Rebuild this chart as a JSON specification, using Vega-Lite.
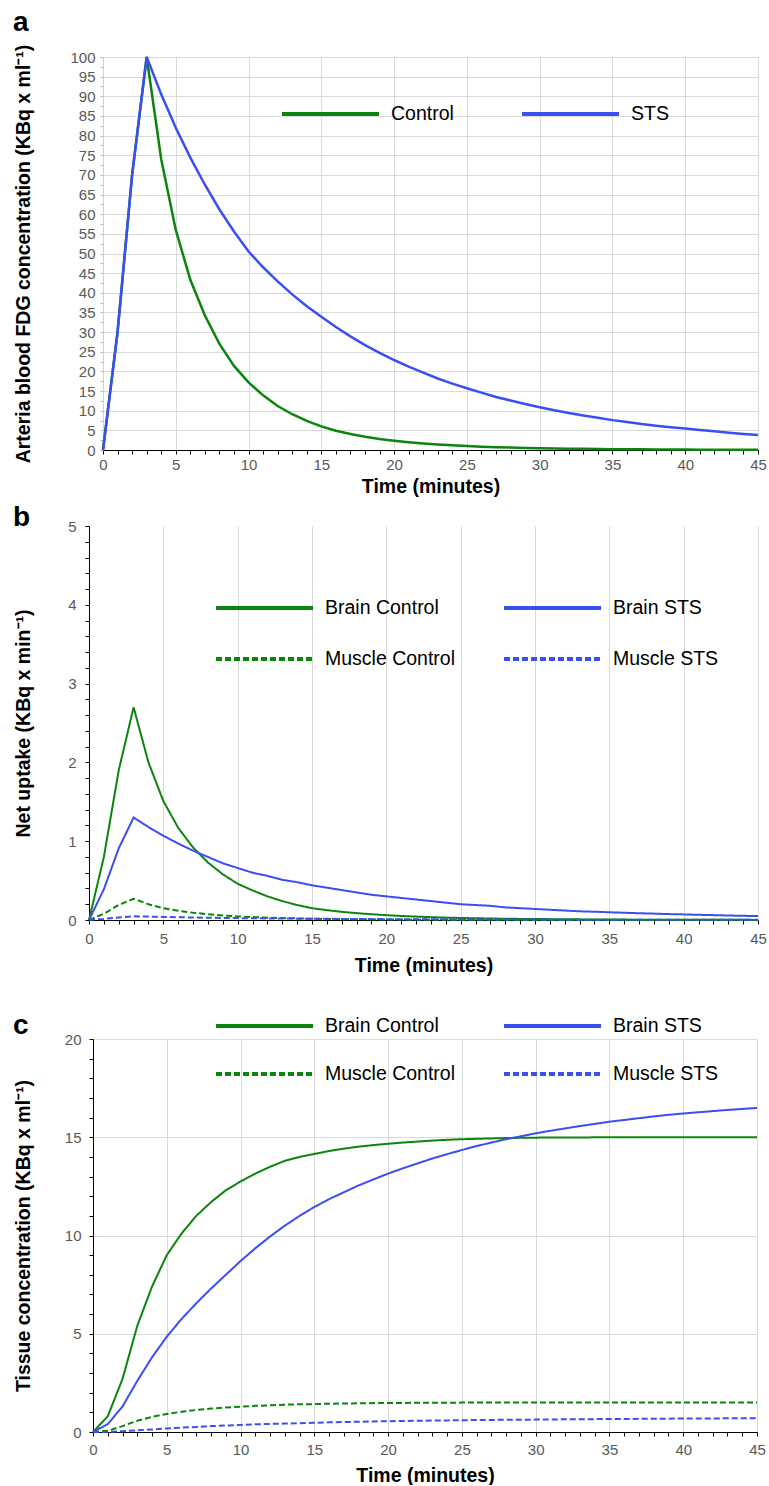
{
  "$schema": "https://vega.github.io/schema/vega-lite/v6.json",
  "padding": {"left": 12, "top": 9, "right": 0, "bottom": 0},
  "spacing": 37,
  "resolve": {"scale": {"color": "independent", "strokeDash": "independent", "x": "independent", "y": "independent"}, "legend": {"color": "independent", "strokeDash": "independent"}},
  "config": {
    "font": "Liberation Sans",
    "view": {"stroke": null},
    "axis": {
      "labelFont": "Liberation Sans", "labelFontSize": 15, "labelColor": "#595959",
      "titleFont": "Liberation Sans", "titleFontSize": 19.5, "titleFontWeight": "bold", "titleColor": "#000000",
      "gridColor": "#d9d9d9", "gridWidth": 1,
      "domainColor": "#000000", "tickColor": "#000000", "tickSize": 4,
      "labelOverlap": false, "labelFlush": false, "labelBound": false
    },
    "legend": {"padding": 0, "labelFont": "Liberation Sans", "labelFontSize": 19.5, "labelColor": "#000000", "symbolType": "stroke", "symbolSize": 9409, "symbolStrokeWidth": 4, "clipHeight": 20, "labelOffset": 10, "labelLimit": 300, "direction": "horizontal"},
    "title": {"anchor": "start", "frame": "bounds", "fontSize": 28, "fontWeight": "bold", "color": "#000000", "font": "Liberation Sans"}
  },
  "datasets": {
    "none": [],
    "art": [
      {"t":0,"s":"Control","v":0},{"t":1,"s":"Control","v":30},{"t":2,"s":"Control","v":70},{"t":3,"s":"Control","v":100},{"t":4,"s":"Control","v":74},{"t":5,"s":"Control","v":56},{"t":6,"s":"Control","v":43.3},{"t":7,"s":"Control","v":34.2},{"t":8,"s":"Control","v":27},{"t":9,"s":"Control","v":21.4},{"t":10,"s":"Control","v":17.2},{"t":11,"s":"Control","v":13.9},{"t":12,"s":"Control","v":11.2},{"t":13,"s":"Control","v":9.1},{"t":14,"s":"Control","v":7.4},{"t":15,"s":"Control","v":6.0},{"t":16,"s":"Control","v":4.9},{"t":17,"s":"Control","v":4.05},{"t":18,"s":"Control","v":3.35},{"t":19,"s":"Control","v":2.8},{"t":20,"s":"Control","v":2.35},{"t":21,"s":"Control","v":1.97},{"t":22,"s":"Control","v":1.66},{"t":23,"s":"Control","v":1.4},{"t":24,"s":"Control","v":1.18},{"t":25,"s":"Control","v":1.0},{"t":26,"s":"Control","v":0.85},{"t":27,"s":"Control","v":0.73},{"t":28,"s":"Control","v":0.62},{"t":29,"s":"Control","v":0.53},{"t":30,"s":"Control","v":0.45},{"t":31,"s":"Control","v":0.39},{"t":32,"s":"Control","v":0.33},{"t":33,"s":"Control","v":0.29},{"t":34,"s":"Control","v":0.25},{"t":35,"s":"Control","v":0.21},{"t":36,"s":"Control","v":0.18},{"t":37,"s":"Control","v":0.16},{"t":38,"s":"Control","v":0.14},{"t":39,"s":"Control","v":0.12},{"t":40,"s":"Control","v":0.1},{"t":41,"s":"Control","v":0.09},{"t":42,"s":"Control","v":0.08},{"t":43,"s":"Control","v":0.07},{"t":44,"s":"Control","v":0.06},{"t":45,"s":"Control","v":0.05},
      {"t":0,"s":"STS","v":0},{"t":1,"s":"STS","v":30},{"t":2,"s":"STS","v":70},{"t":3,"s":"STS","v":100},{"t":4,"s":"STS","v":90.5},{"t":5,"s":"STS","v":82},{"t":6,"s":"STS","v":74.4},{"t":7,"s":"STS","v":67.5},{"t":8,"s":"STS","v":61.2},{"t":9,"s":"STS","v":55.6},{"t":10,"s":"STS","v":50.5},{"t":11,"s":"STS","v":46.5},{"t":12,"s":"STS","v":42.9},{"t":13,"s":"STS","v":39.6},{"t":14,"s":"STS","v":36.6},{"t":15,"s":"STS","v":33.9},{"t":16,"s":"STS","v":31.3},{"t":17,"s":"STS","v":28.9},{"t":18,"s":"STS","v":26.7},{"t":19,"s":"STS","v":24.7},{"t":20,"s":"STS","v":22.9},{"t":21,"s":"STS","v":21.2},{"t":22,"s":"STS","v":19.7},{"t":23,"s":"STS","v":18.2},{"t":24,"s":"STS","v":16.9},{"t":25,"s":"STS","v":15.7},{"t":26,"s":"STS","v":14.6},{"t":27,"s":"STS","v":13.5},{"t":28,"s":"STS","v":12.6},{"t":29,"s":"STS","v":11.7},{"t":30,"s":"STS","v":10.9},{"t":31,"s":"STS","v":10.1},{"t":32,"s":"STS","v":9.4},{"t":33,"s":"STS","v":8.8},{"t":34,"s":"STS","v":8.2},{"t":35,"s":"STS","v":7.6},{"t":36,"s":"STS","v":7.1},{"t":37,"s":"STS","v":6.6},{"t":38,"s":"STS","v":6.2},{"t":39,"s":"STS","v":5.8},{"t":40,"s":"STS","v":5.45},{"t":41,"s":"STS","v":5.1},{"t":42,"s":"STS","v":4.75},{"t":43,"s":"STS","v":4.4},{"t":44,"s":"STS","v":4.1},{"t":45,"s":"STS","v":3.8}
    ],
    "up": [
      {"t":0,"s":"Brain Control","v":0},{"t":1,"s":"Brain Control","v":0.8},{"t":2,"s":"Brain Control","v":1.9},{"t":3,"s":"Brain Control","v":2.7},{"t":4,"s":"Brain Control","v":2.0},{"t":5,"s":"Brain Control","v":1.51},{"t":6,"s":"Brain Control","v":1.17},{"t":7,"s":"Brain Control","v":0.92},{"t":8,"s":"Brain Control","v":0.73},{"t":9,"s":"Brain Control","v":0.58},{"t":10,"s":"Brain Control","v":0.46},{"t":11,"s":"Brain Control","v":0.375},{"t":12,"s":"Brain Control","v":0.3},{"t":13,"s":"Brain Control","v":0.24},{"t":14,"s":"Brain Control","v":0.19},{"t":15,"s":"Brain Control","v":0.15},{"t":16,"s":"Brain Control","v":0.125},{"t":17,"s":"Brain Control","v":0.104},{"t":18,"s":"Brain Control","v":0.087},{"t":19,"s":"Brain Control","v":0.073},{"t":20,"s":"Brain Control","v":0.061},{"t":21,"s":"Brain Control","v":0.051},{"t":22,"s":"Brain Control","v":0.043},{"t":23,"s":"Brain Control","v":0.036},{"t":24,"s":"Brain Control","v":0.03},{"t":25,"s":"Brain Control","v":0.026},{"t":26,"s":"Brain Control","v":0.022},{"t":27,"s":"Brain Control","v":0.019},{"t":28,"s":"Brain Control","v":0.016},{"t":29,"s":"Brain Control","v":0.014},{"t":30,"s":"Brain Control","v":0.012},{"t":31,"s":"Brain Control","v":0.011},{"t":32,"s":"Brain Control","v":0.009},{"t":33,"s":"Brain Control","v":0.008},{"t":34,"s":"Brain Control","v":0.007},{"t":35,"s":"Brain Control","v":0.006},{"t":36,"s":"Brain Control","v":0.005},{"t":37,"s":"Brain Control","v":0.004},{"t":38,"s":"Brain Control","v":0.004},{"t":39,"s":"Brain Control","v":0.003},{"t":40,"s":"Brain Control","v":0.003},{"t":41,"s":"Brain Control","v":0.002},{"t":42,"s":"Brain Control","v":0.002},{"t":43,"s":"Brain Control","v":0.002},{"t":44,"s":"Brain Control","v":0.002},{"t":45,"s":"Brain Control","v":0.001},
      {"t":0,"s":"Brain STS","v":0},{"t":1,"s":"Brain STS","v":0.39},{"t":2,"s":"Brain STS","v":0.91},{"t":3,"s":"Brain STS","v":1.3},{"t":4,"s":"Brain STS","v":1.18},{"t":5,"s":"Brain STS","v":1.07},{"t":6,"s":"Brain STS","v":0.97},{"t":7,"s":"Brain STS","v":0.88},{"t":8,"s":"Brain STS","v":0.8},{"t":9,"s":"Brain STS","v":0.72},{"t":10,"s":"Brain STS","v":0.66},{"t":11,"s":"Brain STS","v":0.6},{"t":12,"s":"Brain STS","v":0.56},{"t":13,"s":"Brain STS","v":0.51},{"t":14,"s":"Brain STS","v":0.48},{"t":15,"s":"Brain STS","v":0.44},{"t":16,"s":"Brain STS","v":0.41},{"t":17,"s":"Brain STS","v":0.38},{"t":18,"s":"Brain STS","v":0.35},{"t":19,"s":"Brain STS","v":0.32},{"t":20,"s":"Brain STS","v":0.3},{"t":21,"s":"Brain STS","v":0.28},{"t":22,"s":"Brain STS","v":0.26},{"t":23,"s":"Brain STS","v":0.24},{"t":24,"s":"Brain STS","v":0.22},{"t":25,"s":"Brain STS","v":0.2},{"t":26,"s":"Brain STS","v":0.19},{"t":27,"s":"Brain STS","v":0.18},{"t":28,"s":"Brain STS","v":0.16},{"t":29,"s":"Brain STS","v":0.15},{"t":30,"s":"Brain STS","v":0.14},{"t":31,"s":"Brain STS","v":0.13},{"t":32,"s":"Brain STS","v":0.12},{"t":33,"s":"Brain STS","v":0.11},{"t":34,"s":"Brain STS","v":0.105},{"t":35,"s":"Brain STS","v":0.098},{"t":36,"s":"Brain STS","v":0.092},{"t":37,"s":"Brain STS","v":0.086},{"t":38,"s":"Brain STS","v":0.081},{"t":39,"s":"Brain STS","v":0.075},{"t":40,"s":"Brain STS","v":0.071},{"t":41,"s":"Brain STS","v":0.066},{"t":42,"s":"Brain STS","v":0.062},{"t":43,"s":"Brain STS","v":0.057},{"t":44,"s":"Brain STS","v":0.053},{"t":45,"s":"Brain STS","v":0.05},
      {"t":0,"s":"Muscle Control","v":0},{"t":1,"s":"Muscle Control","v":0.08},{"t":2,"s":"Muscle Control","v":0.19},{"t":3,"s":"Muscle Control","v":0.27},{"t":4,"s":"Muscle Control","v":0.2},{"t":5,"s":"Muscle Control","v":0.15},{"t":6,"s":"Muscle Control","v":0.117},{"t":7,"s":"Muscle Control","v":0.092},{"t":8,"s":"Muscle Control","v":0.073},{"t":9,"s":"Muscle Control","v":0.058},{"t":10,"s":"Muscle Control","v":0.046},{"t":11,"s":"Muscle Control","v":0.037},{"t":12,"s":"Muscle Control","v":0.03},{"t":13,"s":"Muscle Control","v":0.025},{"t":14,"s":"Muscle Control","v":0.02},{"t":15,"s":"Muscle Control","v":0.016},{"t":16,"s":"Muscle Control","v":0.013},{"t":17,"s":"Muscle Control","v":0.011},{"t":18,"s":"Muscle Control","v":0.009},{"t":19,"s":"Muscle Control","v":0.008},{"t":20,"s":"Muscle Control","v":0.006},{"t":21,"s":"Muscle Control","v":0.005},{"t":22,"s":"Muscle Control","v":0.004},{"t":23,"s":"Muscle Control","v":0.004},{"t":24,"s":"Muscle Control","v":0.003},{"t":25,"s":"Muscle Control","v":0.003},{"t":26,"s":"Muscle Control","v":0.002},{"t":27,"s":"Muscle Control","v":0.002},{"t":28,"s":"Muscle Control","v":0.002},{"t":29,"s":"Muscle Control","v":0.001},{"t":30,"s":"Muscle Control","v":0.001},{"t":31,"s":"Muscle Control","v":0.001},{"t":32,"s":"Muscle Control","v":0.001},{"t":33,"s":"Muscle Control","v":0.001},{"t":34,"s":"Muscle Control","v":0.001},{"t":35,"s":"Muscle Control","v":0.001},{"t":36,"s":"Muscle Control","v":0},{"t":37,"s":"Muscle Control","v":0},{"t":38,"s":"Muscle Control","v":0},{"t":39,"s":"Muscle Control","v":0},{"t":40,"s":"Muscle Control","v":0},{"t":41,"s":"Muscle Control","v":0},{"t":42,"s":"Muscle Control","v":0},{"t":43,"s":"Muscle Control","v":0},{"t":44,"s":"Muscle Control","v":0},{"t":45,"s":"Muscle Control","v":0},
      {"t":0,"s":"Muscle STS","v":0},{"t":1,"s":"Muscle STS","v":0.014},{"t":2,"s":"Muscle STS","v":0.033},{"t":3,"s":"Muscle STS","v":0.047},{"t":4,"s":"Muscle STS","v":0.043},{"t":5,"s":"Muscle STS","v":0.039},{"t":6,"s":"Muscle STS","v":0.035},{"t":7,"s":"Muscle STS","v":0.032},{"t":8,"s":"Muscle STS","v":0.029},{"t":9,"s":"Muscle STS","v":0.026},{"t":10,"s":"Muscle STS","v":0.024},{"t":11,"s":"Muscle STS","v":0.022},{"t":12,"s":"Muscle STS","v":0.02},{"t":13,"s":"Muscle STS","v":0.019},{"t":14,"s":"Muscle STS","v":0.017},{"t":15,"s":"Muscle STS","v":0.016},{"t":16,"s":"Muscle STS","v":0.015},{"t":17,"s":"Muscle STS","v":0.014},{"t":18,"s":"Muscle STS","v":0.013},{"t":19,"s":"Muscle STS","v":0.012},{"t":20,"s":"Muscle STS","v":0.011},{"t":21,"s":"Muscle STS","v":0.01},{"t":22,"s":"Muscle STS","v":0.009},{"t":23,"s":"Muscle STS","v":0.0086},{"t":24,"s":"Muscle STS","v":0.008},{"t":25,"s":"Muscle STS","v":0.0074},{"t":26,"s":"Muscle STS","v":0.0069},{"t":27,"s":"Muscle STS","v":0.0064},{"t":28,"s":"Muscle STS","v":0.0059},{"t":29,"s":"Muscle STS","v":0.0055},{"t":30,"s":"Muscle STS","v":0.0051},{"t":31,"s":"Muscle STS","v":0.0048},{"t":32,"s":"Muscle STS","v":0.0044},{"t":33,"s":"Muscle STS","v":0.0041},{"t":34,"s":"Muscle STS","v":0.0039},{"t":35,"s":"Muscle STS","v":0.0036},{"t":36,"s":"Muscle STS","v":0.0033},{"t":37,"s":"Muscle STS","v":0.0031},{"t":38,"s":"Muscle STS","v":0.0029},{"t":39,"s":"Muscle STS","v":0.0027},{"t":40,"s":"Muscle STS","v":0.0026},{"t":41,"s":"Muscle STS","v":0.0024},{"t":42,"s":"Muscle STS","v":0.0022},{"t":43,"s":"Muscle STS","v":0.0021},{"t":44,"s":"Muscle STS","v":0.0019},{"t":45,"s":"Muscle STS","v":0.0018}
    ],
    "tis": [
      {"t":0,"s":"Brain Control","v":0},{"t":1,"s":"Brain Control","v":0.8},{"t":2,"s":"Brain Control","v":2.7},{"t":3,"s":"Brain Control","v":5.4},{"t":4,"s":"Brain Control","v":7.4},{"t":5,"s":"Brain Control","v":9.0},{"t":6,"s":"Brain Control","v":10.1},{"t":7,"s":"Brain Control","v":11.0},{"t":8,"s":"Brain Control","v":11.7},{"t":9,"s":"Brain Control","v":12.3},{"t":10,"s":"Brain Control","v":12.75},{"t":11,"s":"Brain Control","v":13.15},{"t":12,"s":"Brain Control","v":13.5},{"t":13,"s":"Brain Control","v":13.8},{"t":14,"s":"Brain Control","v":14.0},{"t":15,"s":"Brain Control","v":14.15},{"t":16,"s":"Brain Control","v":14.3},{"t":17,"s":"Brain Control","v":14.42},{"t":18,"s":"Brain Control","v":14.52},{"t":19,"s":"Brain Control","v":14.6},{"t":20,"s":"Brain Control","v":14.67},{"t":21,"s":"Brain Control","v":14.73},{"t":22,"s":"Brain Control","v":14.78},{"t":23,"s":"Brain Control","v":14.83},{"t":24,"s":"Brain Control","v":14.87},{"t":25,"s":"Brain Control","v":14.9},{"t":26,"s":"Brain Control","v":14.92},{"t":27,"s":"Brain Control","v":14.94},{"t":28,"s":"Brain Control","v":14.96},{"t":29,"s":"Brain Control","v":14.97},{"t":30,"s":"Brain Control","v":14.98},{"t":31,"s":"Brain Control","v":14.985},{"t":32,"s":"Brain Control","v":14.99},{"t":33,"s":"Brain Control","v":14.99},{"t":34,"s":"Brain Control","v":14.995},{"t":35,"s":"Brain Control","v":14.995},{"t":36,"s":"Brain Control","v":15},{"t":37,"s":"Brain Control","v":15},{"t":38,"s":"Brain Control","v":15},{"t":39,"s":"Brain Control","v":15},{"t":40,"s":"Brain Control","v":15},{"t":41,"s":"Brain Control","v":15},{"t":42,"s":"Brain Control","v":15},{"t":43,"s":"Brain Control","v":15},{"t":44,"s":"Brain Control","v":15},{"t":45,"s":"Brain Control","v":15},
      {"t":0,"s":"Brain STS","v":0},{"t":1,"s":"Brain STS","v":0.4},{"t":2,"s":"Brain STS","v":1.3},{"t":3,"s":"Brain STS","v":2.6},{"t":4,"s":"Brain STS","v":3.8},{"t":5,"s":"Brain STS","v":4.85},{"t":6,"s":"Brain STS","v":5.75},{"t":7,"s":"Brain STS","v":6.55},{"t":8,"s":"Brain STS","v":7.3},{"t":9,"s":"Brain STS","v":8.0},{"t":10,"s":"Brain STS","v":8.7},{"t":11,"s":"Brain STS","v":9.35},{"t":12,"s":"Brain STS","v":9.95},{"t":13,"s":"Brain STS","v":10.5},{"t":14,"s":"Brain STS","v":11.0},{"t":15,"s":"Brain STS","v":11.45},{"t":16,"s":"Brain STS","v":11.85},{"t":17,"s":"Brain STS","v":12.2},{"t":18,"s":"Brain STS","v":12.55},{"t":19,"s":"Brain STS","v":12.85},{"t":20,"s":"Brain STS","v":13.15},{"t":21,"s":"Brain STS","v":13.42},{"t":22,"s":"Brain STS","v":13.67},{"t":23,"s":"Brain STS","v":13.92},{"t":24,"s":"Brain STS","v":14.14},{"t":25,"s":"Brain STS","v":14.35},{"t":26,"s":"Brain STS","v":14.55},{"t":27,"s":"Brain STS","v":14.73},{"t":28,"s":"Brain STS","v":14.9},{"t":29,"s":"Brain STS","v":15.05},{"t":30,"s":"Brain STS","v":15.2},{"t":31,"s":"Brain STS","v":15.33},{"t":32,"s":"Brain STS","v":15.45},{"t":33,"s":"Brain STS","v":15.57},{"t":34,"s":"Brain STS","v":15.68},{"t":35,"s":"Brain STS","v":15.79},{"t":36,"s":"Brain STS","v":15.88},{"t":37,"s":"Brain STS","v":15.97},{"t":38,"s":"Brain STS","v":16.06},{"t":39,"s":"Brain STS","v":16.14},{"t":40,"s":"Brain STS","v":16.21},{"t":41,"s":"Brain STS","v":16.27},{"t":42,"s":"Brain STS","v":16.33},{"t":43,"s":"Brain STS","v":16.39},{"t":44,"s":"Brain STS","v":16.44},{"t":45,"s":"Brain STS","v":16.49},
      {"t":0,"s":"Muscle Control","v":0},{"t":1,"s":"Muscle Control","v":0.06},{"t":2,"s":"Muscle Control","v":0.3},{"t":3,"s":"Muscle Control","v":0.57},{"t":4,"s":"Muscle Control","v":0.77},{"t":5,"s":"Muscle Control","v":0.92},{"t":6,"s":"Muscle Control","v":1.03},{"t":7,"s":"Muscle Control","v":1.12},{"t":8,"s":"Muscle Control","v":1.19},{"t":9,"s":"Muscle Control","v":1.25},{"t":10,"s":"Muscle Control","v":1.29},{"t":11,"s":"Muscle Control","v":1.33},{"t":12,"s":"Muscle Control","v":1.36},{"t":13,"s":"Muscle Control","v":1.39},{"t":14,"s":"Muscle Control","v":1.41},{"t":15,"s":"Muscle Control","v":1.42},{"t":16,"s":"Muscle Control","v":1.44},{"t":17,"s":"Muscle Control","v":1.45},{"t":18,"s":"Muscle Control","v":1.46},{"t":19,"s":"Muscle Control","v":1.47},{"t":20,"s":"Muscle Control","v":1.475},{"t":21,"s":"Muscle Control","v":1.48},{"t":22,"s":"Muscle Control","v":1.485},{"t":23,"s":"Muscle Control","v":1.49},{"t":24,"s":"Muscle Control","v":1.49},{"t":25,"s":"Muscle Control","v":1.495},{"t":26,"s":"Muscle Control","v":1.495},{"t":27,"s":"Muscle Control","v":1.495},{"t":28,"s":"Muscle Control","v":1.5},{"t":29,"s":"Muscle Control","v":1.5},{"t":30,"s":"Muscle Control","v":1.5},{"t":31,"s":"Muscle Control","v":1.5},{"t":32,"s":"Muscle Control","v":1.5},{"t":33,"s":"Muscle Control","v":1.5},{"t":34,"s":"Muscle Control","v":1.5},{"t":35,"s":"Muscle Control","v":1.5},{"t":36,"s":"Muscle Control","v":1.5},{"t":37,"s":"Muscle Control","v":1.5},{"t":38,"s":"Muscle Control","v":1.5},{"t":39,"s":"Muscle Control","v":1.5},{"t":40,"s":"Muscle Control","v":1.5},{"t":41,"s":"Muscle Control","v":1.5},{"t":42,"s":"Muscle Control","v":1.5},{"t":43,"s":"Muscle Control","v":1.5},{"t":44,"s":"Muscle Control","v":1.5},{"t":45,"s":"Muscle Control","v":1.5},
      {"t":0,"s":"Muscle STS","v":0},{"t":1,"s":"Muscle STS","v":0.01},{"t":2,"s":"Muscle STS","v":0.04},{"t":3,"s":"Muscle STS","v":0.09},{"t":4,"s":"Muscle STS","v":0.13},{"t":5,"s":"Muscle STS","v":0.18},{"t":6,"s":"Muscle STS","v":0.22},{"t":7,"s":"Muscle STS","v":0.26},{"t":8,"s":"Muscle STS","v":0.3},{"t":9,"s":"Muscle STS","v":0.33},{"t":10,"s":"Muscle STS","v":0.36},{"t":11,"s":"Muscle STS","v":0.39},{"t":12,"s":"Muscle STS","v":0.41},{"t":13,"s":"Muscle STS","v":0.43},{"t":14,"s":"Muscle STS","v":0.45},{"t":15,"s":"Muscle STS","v":0.47},{"t":16,"s":"Muscle STS","v":0.49},{"t":17,"s":"Muscle STS","v":0.51},{"t":18,"s":"Muscle STS","v":0.52},{"t":19,"s":"Muscle STS","v":0.54},{"t":20,"s":"Muscle STS","v":0.55},{"t":21,"s":"Muscle STS","v":0.56},{"t":22,"s":"Muscle STS","v":0.57},{"t":23,"s":"Muscle STS","v":0.58},{"t":24,"s":"Muscle STS","v":0.59},{"t":25,"s":"Muscle STS","v":0.6},{"t":26,"s":"Muscle STS","v":0.61},{"t":27,"s":"Muscle STS","v":0.615},{"t":28,"s":"Muscle STS","v":0.62},{"t":29,"s":"Muscle STS","v":0.625},{"t":30,"s":"Muscle STS","v":0.63},{"t":31,"s":"Muscle STS","v":0.64},{"t":32,"s":"Muscle STS","v":0.645},{"t":33,"s":"Muscle STS","v":0.65},{"t":34,"s":"Muscle STS","v":0.655},{"t":35,"s":"Muscle STS","v":0.66},{"t":36,"s":"Muscle STS","v":0.665},{"t":37,"s":"Muscle STS","v":0.67},{"t":38,"s":"Muscle STS","v":0.675},{"t":39,"s":"Muscle STS","v":0.68},{"t":40,"s":"Muscle STS","v":0.685},{"t":41,"s":"Muscle STS","v":0.69},{"t":42,"s":"Muscle STS","v":0.69},{"t":43,"s":"Muscle STS","v":0.695},{"t":44,"s":"Muscle STS","v":0.7},{"t":45,"s":"Muscle STS","v":0.7}
    ]
  },
  "vconcat": [
    {
      "spacing": 8,
      "resolve": {"scale": {"color": "independent", "strokeDash": "independent", "x": "independent", "y": "independent"}, "legend": {"color": "independent", "strokeDash": "independent"}},
      "vconcat": [
        {"spacing": 0, "hconcat": [
          {"width": 1, "height": 1, "data": {"name": "none"}, "mark": "point", "encoding": {}},
          {
            "width": 655, "height": 393,
            "title": {"text": "a", "offset": 7},
            "data": {"name": "art"},
            "mark": {"type": "line", "strokeWidth": 2.5},
            "encoding": {
              "x": {"field": "t", "type": "quantitative", "scale": {"domain": [0, 45], "nice": false},
                "axis": {"title": "Time (minutes)", "values": [0,1,2,3,4,5,6,7,8,9,10,11,12,13,14,15,16,17,18,19,20,21,22,23,24,25,26,27,28,29,30,31,32,33,34,35,36,37,38,39,40,41,42,43,44,45],
                  "labelExpr": "datum.value % 5 === 0 ? format(datum.value, 'd') : ''",
                  "gridOpacity": {"condition": {"test": "datum.value % 5 === 0", "value": 1}, "value": 0},
                  "labelPadding": 3, "minExtent": 22, "maxExtent": 22, "titlePadding": 5}},
              "y": {"field": "v", "type": "quantitative", "scale": {"domain": [0, 100], "nice": false},
                "axis": {"title": "Arteria blood FDG concentration (KBq x ml⁻¹)", "values": [0,2.5,5,7.5,10,12.5,15,17.5,20,22.5,25,27.5,30,32.5,35,37.5,40,42.5,45,47.5,50,52.5,55,57.5,60,62.5,65,67.5,70,72.5,75,77.5,80,82.5,85,87.5,90,92.5,95,97.5,100],
                  "labelExpr": "datum.value % 5 === 0 ? format(datum.value, 'd') : ''",
                  "gridOpacity": {"condition": {"test": "datum.value % 5 === 0", "value": 1}, "value": 0},
                  "domainColor": "#d0d0d0", "tickColor": "#b0b0b0", "tickSize": 3,
                  "labelPadding": 5, "minExtent": 40, "maxExtent": 40, "titlePadding": 30}},
              "color": {"field": "s", "type": "nominal", "scale": {"domain": ["Control", "STS"], "range": ["#0c850c", "#3b4ef2"]},
                "legend": {"orient": "none", "legendX": 268, "legendY": 47, "columns": 2, "title": null, "columnPadding": 66,
                  "encode": {"symbols": {"update": {"stroke": {"signal": "datum.value === 'Control' ? '#00b050' : '#3a53f5'"}}}}}}
            }
          }
        ]},
        {"spacing": 0, "hconcat": [
          {"width": 1, "height": 1, "data": {"name": "none"}, "mark": "point", "encoding": {}},
          {
            "width": 669, "height": 394,
            "title": {"text": "b", "offset": -13},
            "data": {"name": "up"},
            "mark": {"type": "line", "strokeWidth": 2},
            "encoding": {
              "x": {"field": "t", "type": "quantitative", "scale": {"domain": [0, 45], "nice": false},
                "axis": {"title": "Time (minutes)", "values": [0,1,2,3,4,5,6,7,8,9,10,11,12,13,14,15,16,17,18,19,20,21,22,23,24,25,26,27,28,29,30,31,32,33,34,35,36,37,38,39,40,41,42,43,44,45],
                  "labelExpr": "datum.value % 5 === 0 ? format(datum.value, 'd') : ''",
                  "gridOpacity": {"condition": {"test": "datum.value % 5 === 0", "value": 1}, "value": 0},
                  "labelPadding": 7, "minExtent": 28, "maxExtent": 28, "titlePadding": 8}},
              "y": {"field": "v", "type": "quantitative", "scale": {"domain": [0, 5], "nice": false},
                "axis": {"title": "Net uptake (KBq x min⁻¹)", "values": [0,0.2,0.4,0.6,0.8,1,1.2,1.4,1.6,1.8,2,2.2,2.4,2.6,2.8,3,3.2,3.4,3.6,3.8,4,4.2,4.4,4.6,4.8,5],
                  "labelExpr": "datum.value % 1 === 0 ? format(datum.value, 'd') : ''", "grid": false,
                  "labelPadding": 9, "minExtent": 30, "maxExtent": 30, "titlePadding": 26}},
              "color": {"field": "s", "type": "nominal", "scale": {"domain": ["Brain Control", "Brain STS", "Muscle Control", "Muscle STS"], "range": ["#0c850c", "#3b4ef2", "#0c850c", "#3b4ef2"]},
                "legend": {"orient": "none", "legendX": 202, "legendY": 72, "columns": 2, "title": null, "columnPadding": 46, "rowPadding": 31,
                  "encode": {"symbols": {"update": {"stroke": {"signal": "indexof(datum.value, 'STS') >= 0 ? '#3a53f5' : '#00b050'"}, "strokeDash": {"signal": "indexof(datum.value, 'Muscle') === 0 ? [10, 4] : [1, 0]"}}}}}},
              "strokeDash": {"field": "s", "type": "nominal", "scale": {"domain": ["Brain Control", "Brain STS", "Muscle Control", "Muscle STS"], "range": [[1, 0], [1, 0], [6, 3], [6, 3]]}, "legend": null}
            }
          }
        ]}
      ]
    },
    {"spacing": 0, "hconcat": [
      {"width": 1, "height": 1, "data": {"name": "none"}, "mark": "point", "encoding": {}},
      {
        "width": 664, "height": 393,
        "title": {"text": "c", "offset": -8},
        "data": {"name": "tis"},
        "mark": {"type": "line", "strokeWidth": 2},
        "encoding": {
          "x": {"field": "t", "type": "quantitative", "scale": {"domain": [0, 45], "nice": false},
            "axis": {"title": "Time (minutes)", "values": [0,1,2,3,4,5,6,7,8,9,10,11,12,13,14,15,16,17,18,19,20,21,22,23,24,25,26,27,28,29,30,31,32,33,34,35,36,37,38,39,40,41,42,43,44,45],
              "labelExpr": "datum.value % 5 === 0 ? format(datum.value, 'd') : ''",
              "gridOpacity": {"condition": {"test": "datum.value % 5 === 0", "value": 1}, "value": 0},
              "labelPadding": 6, "minExtent": 26, "maxExtent": 26, "titlePadding": 8}},
          "y": {"field": "v", "type": "quantitative", "scale": {"domain": [0, 20], "nice": false},
            "axis": {"title": "Tissue  concentration (KBq x ml⁻¹)", "values": [0,1,2,3,4,5,6,7,8,9,10,11,12,13,14,15,16,17,18,19,20],
              "labelExpr": "datum.value % 5 === 0 ? format(datum.value, 'd') : ''",
              "gridOpacity": {"condition": {"test": "datum.value % 5 === 0", "value": 1}, "value": 0},
              "labelPadding": 8, "minExtent": 30, "maxExtent": 30, "titlePadding": 30}},
          "color": {"field": "s", "type": "nominal", "scale": {"domain": ["Brain Control", "Brain STS", "Muscle Control", "Muscle STS"], "range": ["#0c850c", "#3b4ef2", "#0c850c", "#3b4ef2"]},
            "legend": {"orient": "none", "legendX": 202, "legendY": -23, "columns": 2, "title": null, "columnPadding": 46, "rowPadding": 28,
              "encode": {"symbols": {"update": {"stroke": {"signal": "indexof(datum.value, 'STS') >= 0 ? '#3a53f5' : '#00b050'"}, "strokeDash": {"signal": "indexof(datum.value, 'Muscle') === 0 ? [10, 4] : [1, 0]"}}}}}},
          "strokeDash": {"field": "s", "type": "nominal", "scale": {"domain": ["Brain Control", "Brain STS", "Muscle Control", "Muscle STS"], "range": [[1, 0], [1, 0], [6, 3], [6, 3]]}, "legend": null}
        }
      }
    ]}
  ]
}
